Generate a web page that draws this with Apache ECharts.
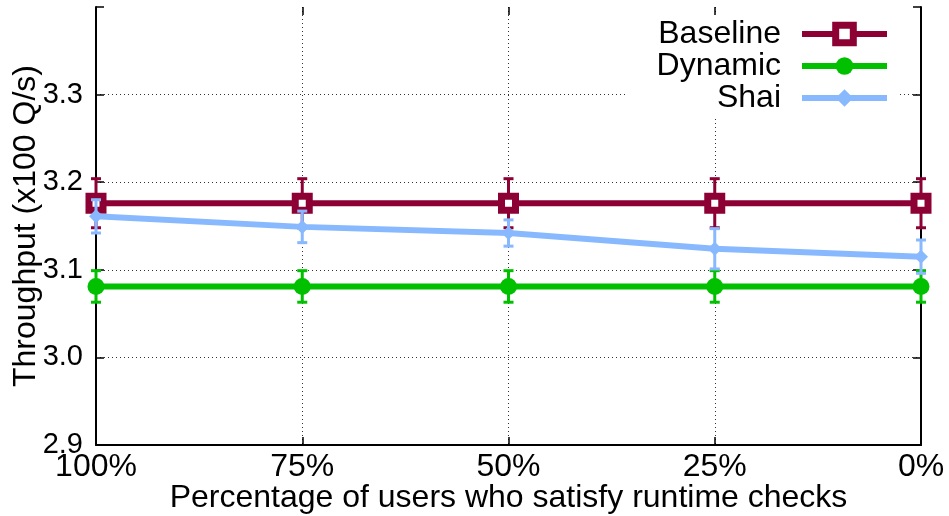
<!DOCTYPE html>
<html>
<head>
<meta charset="utf-8">
<script src="https://cdn.jsdelivr.net/npm/echarts@6/dist/echarts.min.js"></script>
<style>html,body{margin:0;padding:0;background:#fff}#c{width:949px;height:516px}</style>
</head>
<body>
<div id="c"></div>
<script>
var categories = ['100%', '75%', '50%', '25%', '0%'];
var baselineValues = [3.176, 3.176, 3.176, 3.176, 3.176];
var baselineErrors = [0.028, 0.028, 0.028, 0.028, 0.028];
var dynamicValues = [3.081, 3.081, 3.081, 3.081, 3.081];
var dynamicErrors = [0.018, 0.018, 0.018, 0.018, 0.018];
var shaiValues = [3.161, 3.149, 3.142, 3.124, 3.115];
var shaiErrors = [0.019, 0.018, 0.015, 0.023, 0.019];
var yTicks = [2.9, 3.0, 3.1, 3.2, 3.3];

var FONT = 'Liberation Sans';
var FS = 32;
var colors = {baseline: '#8c0034', dynamic: '#00c000', shai: '#88b9ff'};

function errData(vals, errs) {
  return vals.map(function (v, i) { return [i, v - errs[i], v + errs[i]]; });
}
function errSeries(name, vals, errs, color, z) {
  return {
    type: 'custom', name: name + ' err', z: z, silent: true,
    data: errData(vals, errs),
    renderItem: function (params, api) {
      var x = api.value(0);
      var lo = api.coord([x, api.value(1)]);
      var hi = api.coord([x, api.value(2)]);
      var w = 5;
      var st = {stroke: color, lineWidth: 3};
      return {type: 'group', children: [
        {type: 'line', shape: {x1: lo[0], y1: lo[1], x2: hi[0], y2: hi[1]}, style: st},
        {type: 'line', shape: {x1: lo[0] - w, y1: lo[1], x2: lo[0] + w, y2: lo[1]}, style: st},
        {type: 'line', shape: {x1: hi[0] - w, y1: hi[1], x2: hi[0] + w, y2: hi[1]}, style: st}
      ]};
    }
  };
}

var chart = echarts.init(document.getElementById('c'), null, {renderer: 'canvas'});
var gridDot = {show: true, lineStyle: {color: '#333', width: 1, type: [1, 3]}};
chart.setOption({
  animation: false,
  backgroundColor: '#fff',
  textStyle: {fontFamily: FONT},
  grid: {left: 96, right: 28, top: 7, bottom: 71, containLabel: false, outerBoundsMode: 'none'},
  legend: {
    orient: 'vertical', align: 'right', right: 51, top: 15,
    itemWidth: 85, itemHeight: 22, itemGap: 0,
    backgroundColor: '#fff', padding: [3, 8, 4, 30],
    lineStyle: {width: 6},
    textStyle: {fontFamily: FONT, fontSize: FS, color: '#000', lineHeight: 22, padding: [0, 16, 0, 0]},
    data: [
      {name: 'Baseline', itemStyle: {color: '#fff', borderColor: colors.baseline, borderWidth: 7}},
      'Dynamic', 'Shai'
    ]
  },
  xAxis: [{
    type: 'category', data: categories, boundaryGap: false,
    axisLine: {show: true, lineStyle: {color: '#000', width: 2}},
    axisTick: {show: true, inside: true, length: 8, lineStyle: {color: '#000', width: 1.5}},
    axisLabel: {fontFamily: FONT, fontSize: FS, color: '#000', margin: 6, showMinLabel: true, showMaxLabel: true},
    splitLine: gridDot,
    name: 'Percentage of users who satisfy runtime checks',
    nameLocation: 'middle', nameGap: 37, nameMoveOverlap: false,
    nameTextStyle: {fontFamily: FONT, fontSize: FS, color: '#000'}
  }, {
    type: 'category', data: categories, boundaryGap: false, position: 'top',
    axisLine: {show: false},
    axisTick: {show: true, inside: true, length: 8, lineStyle: {color: '#000', width: 1.5}},
    axisLabel: {show: false}, splitLine: {show: false}
  }],
  yAxis: [{
    type: 'value', min: 2.9, max: 3.4, interval: 0.1,
    axisLine: {show: true, lineStyle: {color: '#000', width: 2}},
    axisTick: {show: true, inside: true, length: 8, lineStyle: {color: '#000', width: 1.5}},
    axisLabel: {fontFamily: FONT, fontSize: 29, color: '#000', margin: 13,
      formatter: function (v) {
        for (var i = 0; i < yTicks.length; i++) { if (Math.abs(yTicks[i] - v) < 1e-6) return yTicks[i].toFixed(1); }
        return '';
      }},
    splitLine: {show: true, showMaxLine: false, showMinLine: false, lineStyle: {color: '#333', width: 1, type: [1, 3]}},
    name: 'Throughput (x100 Q/s)', nameLocation: 'middle', nameGap: 54, nameMoveOverlap: false,
    nameTextStyle: {fontFamily: FONT, fontSize: FS, color: '#000'}
  }, {
    type: 'value', min: 2.9, max: 3.4, interval: 0.1, position: 'right',
    axisLine: {show: true, lineStyle: {color: '#000', width: 2}},
    axisTick: {show: true, inside: true, length: 8, lineStyle: {color: '#000', width: 1.5}},
    axisLabel: {show: false}, splitLine: {show: false}
  }],
  series: [
    errSeries('Baseline', baselineValues, baselineErrors, colors.baseline, 2),
    {type: 'line', name: 'Baseline', data: baselineValues, z: 3,
      lineStyle: {color: colors.baseline, width: 6},
      itemStyle: {color: '#fff', borderColor: colors.baseline, borderWidth: 7},
      symbol: 'rect', symbolSize: 14, showSymbol: true},
    errSeries('Dynamic', dynamicValues, dynamicErrors, colors.dynamic, 4),
    {type: 'line', name: 'Dynamic', data: dynamicValues, z: 5,
      lineStyle: {color: colors.dynamic, width: 6},
      itemStyle: {color: colors.dynamic, borderWidth: 0},
      symbol: 'circle', symbolSize: 17},
    errSeries('Shai', shaiValues, shaiErrors, colors.shai, 6),
    {type: 'line', name: 'Shai', data: shaiValues, z: 7,
      lineStyle: {color: colors.shai, width: 6},
      itemStyle: {color: colors.shai, borderWidth: 0},
      symbol: 'diamond', symbolSize: 14}
  ]
});
</script>
</body>
</html>
